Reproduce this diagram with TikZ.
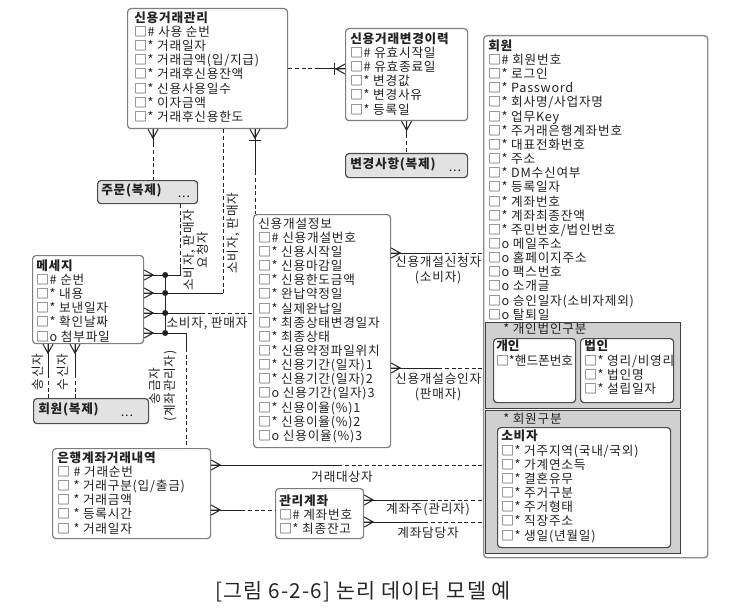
\documentclass[tikz,border=0pt]{standalone}
\usepackage{fontspec}
\setmainfont[LetterSpace=6]{Noto Sans CJK KR}
\usetikzlibrary{calc}
\definecolor{frame}{RGB}{125,125,125}
\definecolor{dupfill}{RGB}{226,226,226}
\definecolor{grpfill}{RGB}{208,208,208}
\definecolor{ink}{RGB}{35,35,35}
\newcommand{\rowfont}{\fontsize{9.5}{10.62}\selectfont}

\begin{document}
\begin{tikzpicture}[x=0.75pt,y=-0.75pt,
  ent/.style={draw=frame,line width=0.9pt,rounded corners=2.5pt,fill=white,anchor=north west,inner sep=0pt},
  dup/.style={draw=black!70,line width=0.9pt,rounded corners=2.5pt,fill=dupfill,anchor=north west,inner sep=0pt},
  grp/.style={draw=black!75,line width=0.9pt,fill=grpfill,anchor=north west,inner sep=0pt},
  rows/.style={anchor=north west,align=left,inner sep=0pt,font=\rowfont,text=ink},
  lbl/.style={align=center,inner sep=0pt,font=\rowfont,text=ink},
  conn/.style={draw=ink,line width=0.75pt},
  opt/.style={conn,dash pattern=on 3pt off 2pt},
  crow/.pic={\draw[conn] (0,-5) -- (9,0) -- (0,5) (0,0) -- (9,0);},
  uid/.pic={\draw[conn] (0,-6) -- (0,6);},
  arcdot/.style={circle,fill=ink,inner sep=0pt,minimum size=4.5pt}]
  \useasboundingbox (0,0) rectangle (729,610);

  % entities
  \node[ent,minimum width=120pt,minimum height=90pt] (mgmt) at (127,8) {};
  \node[rows] (mgmtT) at (134,11.3) {{\bfseries 신용거래관리}\\□\# 사용 순번\\□* 거래일자\\□* 거래금액(입/지급)\\□* 거래후신용잔액\\□* 신용사용일수\\□* 이자금액\\□* 거래후신용한도};

  \node[ent,minimum width=91.5pt,minimum height=69pt] (hist) at (345,28) {};
  \node[rows] (histT) at (350,32.3) {{\bfseries 신용거래변경이력}\\□\# 유효시작일\\□\# 유효종료일\\□* 변경값\\□* 변경사유\\□* 등록일};
  \node[dup,minimum width=91.5pt,minimum height=18pt] (histDup) at (345,153) {};
  \node[rows,font=\rowfont\bfseries] (histDupT) at (350,157.5) {변경사항(복제)};
  \node[lbl] (histDupD) at (455,171) {...};

  \node[ent,draw=black!45,line width=1.1pt,minimum width=168pt,minimum height=391.5pt] (mem) at (483,35) {};
  \node[rows] (memT) at (488,39.3) {{\bfseries 회원}\\□\# 회원번호\\□* 로그인\\□* Password\\□* 회사명/사업자명\\□* 업무Key\\□* 주거래은행계좌번호\\□* 대표전화번호\\□* 주소\\□* DM수신여부\\□* 등록일자\\□* 계좌번호\\□* 계좌최종잔액\\□* 주민번호/법인번호\\□o 메일주소\\□o 홈페이지주소\\□o 팩스번호\\□o 소개글\\□o 승인일자(소비자제외)\\□o 탈퇴일};

  \node[grp,minimum width=146.25pt,minimum height=64.5pt] (kind) at (485,322) {};
  \node[rows] (kindT) at (503,322.5) {* 개인법인구분};
  \node[ent,draw=black!70,minimum width=61.5pt,minimum height=48pt] (per) at (493,338) {};
  \node[rows,font=\rowfont\addfontfeature{LetterSpace=0}] (perT) at (496,340) {{\bfseries 개인}\\□*핸드폰번호};
  \node[ent,draw=black!70,minimum width=69.75pt,minimum height=48pt] (corp) at (580,338) {};
  \node[rows] (corpT) at (584,340) {{\bfseries 법인}\\□* 영리/비영리\\□* 법인명\\□* 설립일자};

  \node[grp,minimum width=146.25pt,minimum height=107.25pt] (cls) at (485,410) {};
  \node[rows] (clsT) at (503,412.5) {* 회원구분};
  \node[ent,draw=black!70,minimum width=129.75pt,minimum height=90pt] (cons) at (497,427) {};
  \node[rows] (consT) at (501,430) {{\bfseries 소비자}\\□* 거주지역(국내/국외)\\□* 가계연소득\\□* 결혼유무\\□* 주거구분\\□* 주거형태\\□* 직장주소\\□* 생일(년월일)};

  \node[dup,minimum width=75pt,minimum height=17.25pt] (orderDup) at (97,180) {};
  \node[rows,font=\rowfont\bfseries] (orderDupT) at (101,183.5) {주문(복제)};
  \node[lbl] (orderDupD) at (184,197) {...};

  \node[ent,minimum width=83.25pt,minimum height=66pt] (msg) at (32,255) {};
  \node[rows] (msgT) at (36,259.3) {{\bfseries 메세지}\\□\# 순번\\□* 내용\\□* 보낸일자\\□* 확인날짜\\□o 첨부파일};

  \node[dup,minimum width=86.25pt,minimum height=18.75pt] (memDup) at (33,398) {};
  \node[rows,font=\rowfont\bfseries] (memDupT) at (38,402.5) {회원(복제)};
  \node[lbl] (memDupD) at (127,416) {...};

  \node[ent,minimum width=102.75pt,minimum height=174.75pt] (open) at (253,214) {};
  \node[rows] (openT) at (258,217.3) {신용개설정보\\□\# 신용개설번호\\□* 신용시작일\\□* 신용마감일\\□* 신용한도금액\\□* 완납약정일\\□* 실제완납일\\□* 최종상태변경일자\\□* 최종상태\\□* 신용약정파일위치\\□* 신용기간(일자)1\\□* 신용기간(일자)2\\□o 신용기간(일자)3\\□* 신용이율(\%)1\\□* 신용이율(\%)2\\□o 신용이율(\%)3};

  \node[ent,minimum width=118.5pt,minimum height=67.5pt] (bank) at (52,448) {};
  \node[rows] (bankT) at (57,451.3) {{\bfseries 은행계좌거래내역}\\□ \# 거래순번\\□ * 거래구분(입/출금)\\□ * 거래금액\\□ * 등록시간\\□ * 거래일자};

  \node[ent,minimum width=66pt,minimum height=37.5pt] (acct) at (275,488) {};
  \node[rows] (acctT) at (279,494.3) {{\bfseries 관리계좌}\\□\# 계좌번호\\□* 최종잔고};

  % attachment points
  \coordinate (r1) at ($(mgmt.north east)+(0,61)$);
  \coordinate (r3) at ($(mgmt.south west)+(26,0)$);
  \coordinate (r4) at ($(mgmt.south west)+(96,0)$);
  \coordinate (r10) at ($(mgmt.south west)+(128,0)$);
  \coordinate (r5) at ($(orderDup.south west)+(83,0)$);
  \coordinate (m1) at ($(msg.north east)+(0,20)$);
  \coordinate (m2) at ($(msg.north east)+(0,38)$);
  \coordinate (m3) at ($(msg.north east)+(0,58)$);
  \coordinate (m4) at ($(msg.north east)+(0,78)$);
  \coordinate (m5) at ($(msg.south west)+(16,0)$);
  \coordinate (m6) at ($(msg.south west)+(43,0)$);
  \coordinate (o1) at ($(open.north east)+(0,39)$);
  \coordinate (o2) at ($(open.north east)+(0,154)$);
  \coordinate (b1) at ($(bank.north east)+(0,17)$);
  \coordinate (b2) at ($(bank.north east)+(0,62)$);
  \coordinate (a1) at ($(acct.north east)+(0,12)$);
  \coordinate (a2) at ($(acct.north east)+(0,34)$);

  % relationships
  \draw[opt] (r1) -- ++(30,0) coordinate (r1m);
  \draw[conn] (r1m) -- (r1 -| hist.west);
  \pic[rotate=180] at (r1 -| hist.west) {crow};
  \pic at ($(r1 -| hist.west)+(-11,0)$) {uid};

  \draw[conn] (hist.south) -- ++(0,13) coordinate (r2m);
  \draw[opt] (r2m) -- (histDup.north);
  \pic[rotate=-90] at (hist.south) {crow};

  \draw[conn] (r3) -- ++(0,14) coordinate (r3m);
  \draw[opt] (r3m) -- (r3m |- orderDup.north);
  \pic[rotate=-90] at (r3) {crow};

  \draw[opt] (r4) -- (r4 |- m2);
  \draw[conn] (r4 |- m2) -- (m2);
  \pic at (m2) {crow};

  \draw[opt] (r5) -- ++(0,62) coordinate (r5m);
  \draw[conn] (r5m) -- (r5 |- m1) -- (m1);
  \pic at (m1) {crow};

  \draw[conn] (m3) -- ++(57,0) coordinate (r6m);
  \draw[opt] (r6m) -- (m3 -| open.west);
  \pic at (m3) {crow};

  \draw[conn] (m4) -- ++(42,0) -- ++(0,15) coordinate (r7m);
  \draw[opt] (r7m) -- (r7m |- bank.north);
  \pic at (m4) {crow};

  \draw[conn] ($(m1)+(21,0)$) -- ($(m4)+(21,0)$);
  \foreach \m in {m1,m2,m3,m4}
    \node[arcdot] (dot\m) at ($(\m)+(21,0)$) {};

  \draw[conn] (m5) -- ++(0,30) coordinate (r8m);
  \draw[opt] (r8m) -- (r8m |- memDup.north);
  \pic[rotate=-90] at (m5) {crow};
  \draw[conn] (m6) -- ++(0,30) coordinate (r9m);
  \draw[opt] (r9m) -- (r9m |- memDup.north);
  \pic[rotate=-90] at (m6) {crow};

  \draw[conn] (r10) -- ++(0,42) coordinate (r10m);
  \draw[opt] (r10m) -- (r10m |- open.north);
  \pic[rotate=-90] at (r10) {crow};
  \pic[rotate=-90] at ($(r10)+(0,11)$) {uid};

  \draw[conn] (o1) -- ++(47,0) coordinate (r11m);
  \draw[opt] (r11m) -- (o1 -| mem.west);
  \pic at (o1) {crow};
  \draw[conn] (o2) -- ++(47,0) coordinate (r12m);
  \draw[opt] (r12m) -- (o2 -| mem.west);
  \pic at (o2) {crow};

  \draw[conn] (b1) -- ++(127,0) coordinate (r13m);
  \draw[opt] (r13m) -- (b1 -| mem.west);
  \pic at (b1) {crow};
  \draw[conn] (b2) -- ++(30,0) coordinate (r14m);
  \draw[opt] (r14m) -- (b2 -| acct.west);
  \pic at (b2) {crow};

  \draw[conn] (a1) -- ++(60,0) coordinate (r15m);
  \draw[opt] (r15m) -- (a1 -| mem.west);
  \pic at (a1) {crow};
  \draw[conn] (a2) -- ++(60,0) coordinate (r16m);
  \draw[opt] (r16m) -- (a2 -| mem.west);
  \pic at (a2) {crow};

  % role names
  \node[lbl,rotate=90] (lblOrder) at (196,250) {소비자, 판매자\\요청자};
  \node[lbl,rotate=90] (lblMgmt) at (233,233) {소비자, 판매자};
  \node[lbl] (lblOpen) at (207,323) {소비자, 판매자};
  \node[lbl,rotate=90] (lblSend) at (38,372) {송신자};
  \node[lbl,rotate=90] (lblRecv) at (63,372) {수신자};
  \node[lbl,rotate=90] (lblBank) at (163,386) {송금자\\(계좌관리자)};
  \node[lbl] (lblReq) at ($(r11m)+(0,17)$) {신용개설신청자\\(소비자)};
  \node[lbl] (lblApp) at ($(r12m)+(0,19)$) {신용개설승인자\\(판매자)};
  \node[lbl] (lblDeal) at (342,477) {거래대상자};
  \node[lbl] (lblOwner) at (428,510) {계좌주(관리자)};
  \node[lbl] (lblStaff) at (428,533) {계좌담당자};

  \node[font=\fontsize{15.5}{18}\selectfont,text=black!85] (caption) at (363,592) {[그림 6-2-6] 논리 데이터 모델 예};
\end{tikzpicture}
\end{document}
